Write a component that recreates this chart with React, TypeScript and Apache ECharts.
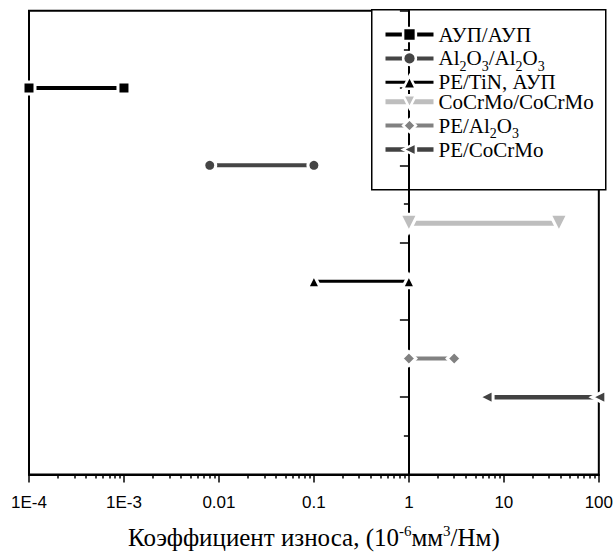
import React, { useEffect, useRef } from "react";
import * as echarts from "echarts";

const seriesNames = ["АУП/АУП", "Al2O3/Al2O3", "PE/TiN, АУП", "CoCrMo/CoCrMo", "PE/Al2O3", "PE/CoCrMo"];
const legendRich = [
  "{n|АУП/АУП}",
  "{n|Al}{sub|2}{n|O}{sub|3}{n|/Al}{sub|2}{n|O}{sub|3}",
  "{n|PE/TiN, АУП}",
  "{n|CoCrMo/CoCrMo}",
  "{n|PE/Al}{sub|2}{n|O}{sub|3}",
  "{n|PE/CoCrMo}",
];
const xStart = [1e-4, 0.008, 0.1, 1, 1, 6.5];
const xEnd = [1e-3, 0.1, 1, 38, 3, 100];
const yLevel = [10, 8, 5, 6.5, 3, 2];
const xTickLabels = ["1E-4", "1E-3", "0.01", "0.1", "1", "10", "100"];

const colors = ["#000000", "#454545", "#000000", "#bebebe", "#818181", "#424242"];
const symbols = ["rect", "circle", "triangle", "triangle", "diamond", "triangle"];
const rotates = [0, 0, 0, 180, 0, 90];
const sizes = [12, 12, 13, 18, 14, 14];
const lineWidths = [4, 4, 3, 5, 4, 4.5];

const SERIF = "Liberation Serif";
const SANS = "Liberation Sans";

const minorTickValues: number[] = [];
for (let d = -4; d < 2; d++) {
  for (let k = 2; k <= 9; k++) minorTickValues.push(Math.log10(k * Math.pow(10, d)));
}

export default function App() {
  const ref = useRef<HTMLDivElement>(null);
  useEffect(() => {
    const chart = echarts.init(ref.current!, null, { renderer: "svg" });
    const richMap: Record<string, string> = {};
    seriesNames.forEach((n, i) => (richMap[n] = legendRich[i]));
    chart.setOption({
      animation: false,
      backgroundColor: "#ffffff",
      grid: {
        left: 29,
        right: 14,
        top: 10.7,
        bottom: 75,
        show: true,
        borderColor: "#000",
        borderWidth: 2,
      },
      graphic: [
        {
          type: "rect",
          left: 371,
          top: 9,
          shape: { width: 234, height: 180 },
          style: { fill: "#fff", stroke: "#000", lineWidth: 1.5 },
          z: 0,
          zlevel: 0,
        },
      ],
      legend: {
        orient: "vertical",
        left: 383,
        top: 24,
        padding: 0,
        itemWidth: 48,
        itemHeight: 16,
        itemGap: -1.6,
        z: 10,
        data: seriesNames,
        formatter: (name: string) => richMap[name] || name,
        lineStyle: { width: "inherit" },
        itemStyle: { borderWidth: 2.5 },
        textStyle: {
          fontFamily: SERIF,
          fontSize: 21,
          color: "#000",
          padding: [0, 0, 0, 0],
          rich: {
            n: { fontFamily: SERIF, fontSize: 21, color: "#000", lineHeight: 30 },
            sub: { fontFamily: SERIF, fontSize: 14, color: "#000", lineHeight: 14, padding: [16, 0, 0, 0] },
          },
        },
      },
      xAxis: [
        {
          type: "log",
          logBase: 10,
          min: 1e-4,
          max: 100,
          position: "bottom",
          axisLine: { show: true, lineStyle: { color: "#000", width: 2 } },
          axisTick: { show: true, inside: false, length: 8, lineStyle: { color: "#000", width: 1.5 } },
          minorTick: { show: false },
          splitLine: { show: false },
          axisLabel: {
            color: "#000",
            fontFamily: SANS,
            fontSize: 17,
            margin: 19,
            formatter: (v: number) => xTickLabels[Math.round(Math.log10(v)) + 4] ?? "",
          },
          name: "{n|Коэффициент износа, (10}{sup|-6}{n|мм}{sup|3}{n|/Нм)}",
          nameLocation: "middle",
          nameGap: 49,
          nameTextStyle: {
            fontFamily: SERIF,
            fontSize: 25,
            color: "#000",
            rich: {
              n: { fontFamily: SERIF, fontSize: 25, color: "#000", lineHeight: 28 },
              sup: { fontFamily: SERIF, fontSize: 15, color: "#000", lineHeight: 14, verticalAlign: "top" },
            },
          },
        },
        {
          type: "value",
          min: -4,
          max: 2,
          position: "bottom",
          axisLine: { show: false },
          axisLabel: { show: false },
          splitLine: { show: false },
          axisTick: {
            show: true,
            inside: false,
            length: 4,
            customValues: minorTickValues,
            lineStyle: { color: "#000", width: 1.5 },
          },
        },
      ],
      yAxis: {
        type: "value",
        min: 0,
        max: 12,
        interval: 2,
        axisLine: { show: true, lineStyle: { color: "#000", width: 2 } },
        axisTick: { show: true, inside: false, length: 9, lineStyle: { color: "#000", width: 1.5 } },
        minorTick: { show: true, splitNumber: 2, length: 5, lineStyle: { color: "#000", width: 1.5 } },
        axisLabel: { show: false },
        splitLine: { show: false },
      },
      series: seriesNames.map((name, i) => ({
        name,
        type: "line",
        xAxisIndex: 0,
        data: [
          [xStart[i], yLevel[i]],
          [xEnd[i], yLevel[i]],
        ],
        symbol: symbols[i],
        symbolSize: sizes[i],
        symbolRotate: rotates[i],
        showAllSymbol: true,
        clip: false,
        lineStyle: { color: colors[i], width: lineWidths[i] },
        itemStyle: { color: colors[i], borderColor: "#ffffff", borderWidth: 3 },
        emphasis: { disabled: true },
      })),
    });
    return () => chart.dispose();
  }, []);
  return <div ref={ref} style={{ position: "fixed", left: 0, top: 0, width: 616, height: 555 }} />;
}
